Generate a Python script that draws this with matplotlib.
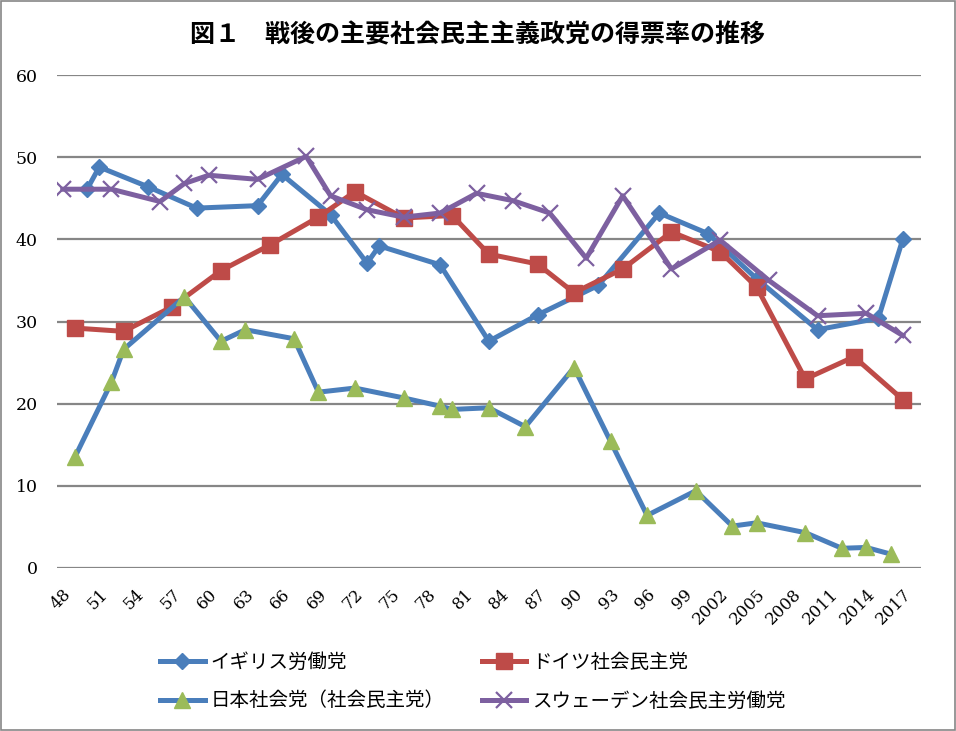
import matplotlib
matplotlib.use("Agg")
import matplotlib.pyplot as plt
from matplotlib.patches import Rectangle

# ---- data ----
uk_years = [1950, 1951, 1955, 1959, 1964, 1966, 1970, 1973, 1974, 1979, 1983, 1987,
            1992, 1997, 2001, 2005, 2010, 2015, 2017]
uk_vals = [46.1, 48.8, 46.4, 43.8, 44.1, 47.9, 43.0, 37.1, 39.2, 36.9, 27.6, 30.8,
           34.4, 43.2, 40.7, 35.2, 29.0, 30.4, 40.0]

de_years = [1949, 1953, 1957, 1961, 1965, 1969, 1972, 1976, 1980, 1983, 1987, 1990,
            1994, 1998, 2002, 2005, 2009, 2013, 2017]
de_vals = [29.2, 28.8, 31.8, 36.2, 39.3, 42.7, 45.8, 42.6, 42.9, 38.2, 37.0, 33.5,
           36.4, 40.9, 38.5, 34.2, 23.0, 25.7, 20.5]

jp_years = [1949, 1952, 1953, 1958, 1961, 1963, 1967, 1969, 1972, 1976, 1979, 1980,
            1983, 1986, 1990, 1993, 1996, 2000, 2003, 2005, 2009, 2012, 2014, 2016]
jp_vals = [13.5, 22.6, 26.6, 33.0, 27.6, 29.0, 27.9, 21.4, 21.9, 20.7, 19.7, 19.3,
           19.5, 17.2, 24.4, 15.4, 6.4, 9.4, 5.1, 5.5, 4.3, 2.4, 2.5, 1.7]

se_years = [1948, 1952, 1956, 1958, 1960, 1964, 1968, 1970, 1973, 1976, 1979, 1982,
            1985, 1988, 1991, 1994, 1998, 2002, 2006, 2010, 2014, 2017]
se_vals = [46.1, 46.1, 44.6, 46.8, 47.8, 47.3, 50.1, 45.3, 43.6, 42.7, 43.2, 45.6,
           44.7, 43.2, 37.7, 45.3, 36.4, 39.9, 35.0, 30.7, 31.0, 28.3]

tick_years = list(range(1948, 2018, 3))
tick_labels = ["48", "51", "54", "57", "60", "63", "66", "69", "72", "75", "78", "81",
               "84", "87", "90", "93", "96", "99", "2002", "2005", "2008", "2011",
               "2014", "2017"]

series_names = ["イギリス労働党", "ドイツ社会民主党", "日本社会党（社会民主党）",
                "スウェーデン社会民主労働党"]

title = "図１　戦後の主要社会民主主義政党の得票率の推移"

# ---- styling ----
JP = ["Noto Sans CJK JP", "DejaVu Sans"]
SERIF = "DejaVu Serif"
blue = "#4A7EBB"
red = "#BE4B48"
green = "#9BBB59"
purple = "#7D60A0"
grid_c = "#868686"

fig = plt.figure(figsize=(9.56, 7.31), dpi=100)
ax = fig.add_axes([57 / 956, 1 - 568 / 731, (921 - 57) / 956, (568 - 75) / 731])

lw = 3.6
l_uk, = ax.plot(uk_years, uk_vals, color=blue, lw=lw, marker="D", markersize=8.2,
                markerfacecolor=blue, markeredgecolor=blue, label=series_names[0], zorder=3)
l_de, = ax.plot(de_years, de_vals, color=red, lw=lw, marker="s", markersize=11.5,
                markerfacecolor=red, markeredgecolor=red, label=series_names[1], zorder=4)
l_jp, = ax.plot(jp_years, jp_vals, color=blue, lw=lw, marker="^", markersize=11.5,
                markerfacecolor=green, markeredgecolor=green, label=series_names[2], zorder=5)
l_se, = ax.plot(se_years, se_vals, color=purple, lw=lw, marker="x", markersize=11,
                markeredgewidth=1.6, markeredgecolor=purple, label=series_names[3], zorder=6)

ax.set_xlim(1947.53, 2018.5)
ax.set_ylim(0, 60)
ax.set_yticks(range(0, 61, 10))
ax.yaxis.grid(True, color=grid_c, lw=1.6)
ax.set_axisbelow(True)
for s in ax.spines.values():
    s.set_visible(False)
ax.tick_params(axis="both", length=0)
ax.tick_params(axis="y", pad=14)
ax.set_yticklabels([str(v) for v in range(0, 61, 10)], fontfamily=SERIF, fontsize=12.5)
ax.set_xticks(tick_years)
ax.set_xticklabels(tick_labels, fontfamily=SERIF, fontsize=12, rotation=45,
                   ha="right", va="top", rotation_mode="anchor")
ax.tick_params(axis="x", pad=13)

fig.text(0.5, 1 - 35 / 731, title, ha="center", va="center", fontsize=18,
         fontweight="bold", family=JP)

handles = [l_uk, l_jp, l_de, l_se]
leg = fig.legend(handles, [h.get_label() for h in handles],
                 loc="upper left", bbox_to_anchor=(160 / 956, 1 - 652 / 731), ncol=2,
                 frameon=False, prop={"family": JP, "size": 14}, handlelength=2.3,
                 handletextpad=0.3, columnspacing=1.9, labelspacing=0.9,
                 borderpad=0, borderaxespad=0)

fig.patches.append(Rectangle((0.001, 0.001), 0.998, 0.998, transform=fig.transFigure,
                             fill=False, edgecolor=grid_c, lw=1.2))

fig.savefig("out.png", dpi=100)
